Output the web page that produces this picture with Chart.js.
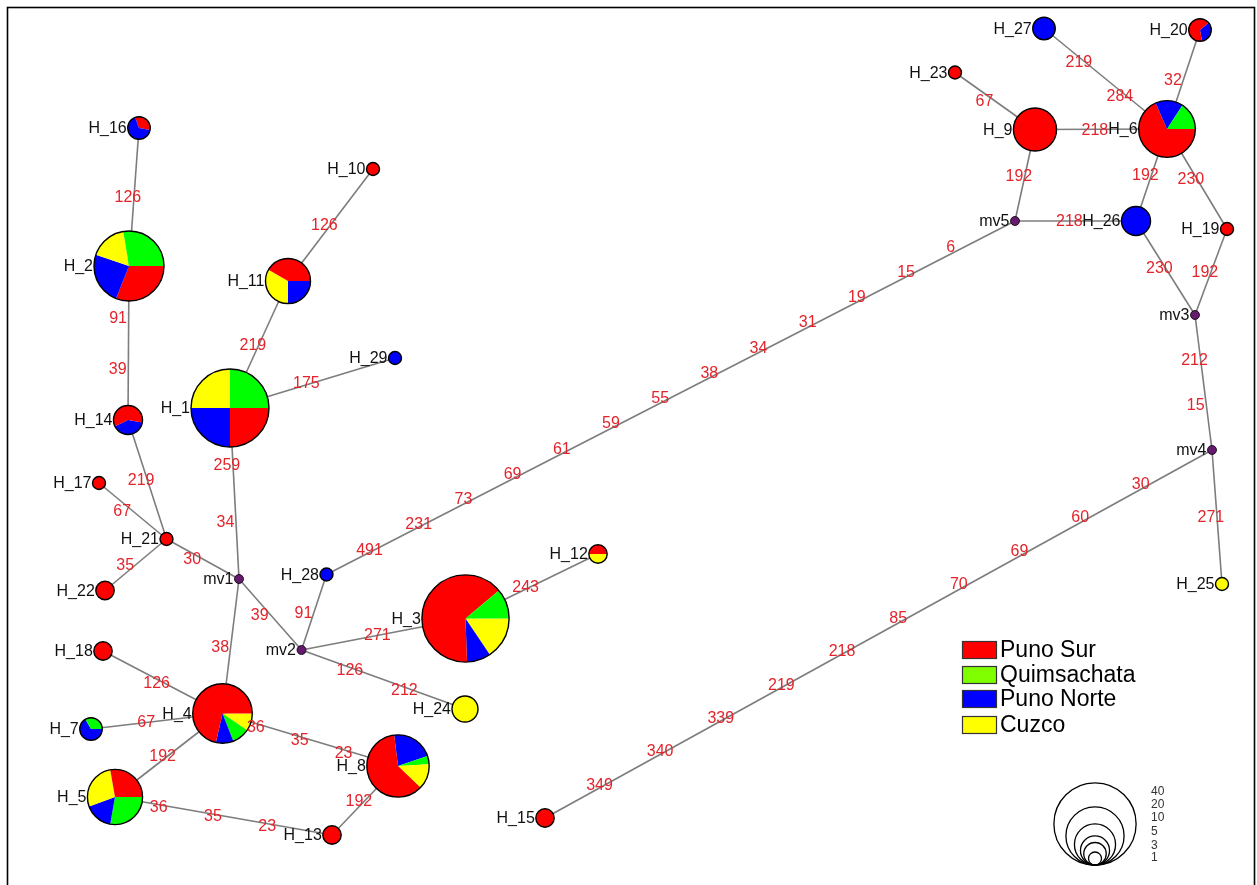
<!DOCTYPE html>
<html>
<head>
<meta charset="utf-8">
<script src="https://cdn.jsdelivr.net/npm/chart.js@4.4.1/dist/chart.umd.min.js"></script>
<style>
  html, body { margin: 0; padding: 0; background: #ffffff; }
  #wrap { width: 1257px; height: 885px; position: relative; }
</style>
</head>
<body>
<div id="wrap"><canvas id="net" width="1257" height="885"></canvas></div>
<script>
// Haplotype network: node positions (layout units), sample counts per population,
// links between haplotypes and the mutated sites along each link.
const nodeNames = ['H_1','H_2','H_3','H_4','H_5','H_6','H_7','H_8','H_9','H_10',
  'H_11','H_12','H_13','H_14','H_15','H_16','H_17','H_18','H_19','H_20',
  'H_21','H_22','H_23','H_24','H_25','H_26','H_27','H_28','H_29',
  'mv1','mv2','mv3','mv4','mv5'];
const nodeX = [230, 129, 465.5, 222.5, 115, 1167, 91, 398, 1035, 373,
  288, 598, 332, 128, 545, 139, 99, 103, 1227, 1200,
  166.5, 105, 955, 465, 1222, 1136, 1044, 326.5, 395,
  239, 301.5, 1195, 1212, 1015];
const nodeY = [408, 266, 618.5, 713.5, 797, 129, 729, 766, 129.5, 169,
  281, 554, 835, 420, 818, 128, 483, 651, 229, 30,
  539, 590.5, 72.5, 709, 584, 221, 28.5, 574.5, 358,
  579, 650, 315, 450, 221];

const groupNames = ['Puno Sur', 'Quimsachata', 'Puno Norte', 'Cuzco'];
const punoSur     = [9, 9, 29, 15, 5, 13, 0, 14, 11, 1, 5, 1, 2, 3, 2, 1, 1, 2, 1, 2, 1, 2, 1, 0, 0, 0, 0, 0, 0, 0, 0, 0, 0, 0];
const quimsachata = [9, 8,  5,  2, 5,  3, 1,  1,  0, 0, 0, 0, 0, 0, 0, 0, 0, 0, 0, 0, 0, 0, 0, 0, 0, 0, 0, 0, 0, 0, 0, 0, 0, 0];
const punoNorte   = [9, 7,  4,  2, 3,  3, 2,  5,  0, 0, 3, 0, 0, 2, 0, 2, 0, 0, 0, 1, 0, 0, 0, 0, 0, 5, 3, 1, 1, 0, 0, 0, 0, 0];
const cuzco       = [9, 5,  7,  2, 5,  0, 0,  3,  0, 0, 4, 1, 0, 0, 0, 0, 0, 0, 0, 0, 0, 0, 0, 4, 1, 0, 0, 0, 0, 0, 0, 0, 0, 0];

const edgeFrom = ['H_16','H_2','H_14','H_17','H_21','H_21','H_1','H_1','H_11','H_1',
  'mv1','mv1','mv2','H_28','mv2','mv2','H_3','H_18','H_7','H_4',
  'H_4','H_5','H_8','H_15','mv3','mv4','mv3','mv3','H_6','H_6',
  'H_6','H_27','H_9','H_23','H_9','mv5'];
const edgeTo = ['H_2','H_14','H_21','H_21','H_22','mv1','mv1','H_11','H_10','H_29',
  'mv2','H_4','H_28','mv5','H_3','H_24','H_12','H_4','H_4','H_5',
  'H_8','H_13','H_13','mv4','mv4','H_25','H_26','H_19','H_19','H_26',
  'H_20','H_6','H_6','H_9','mv5','H_26'];
const edgeMutations = [[126],[91,39],[219],[67],[35],[30],[259,34],[219],[126],[175],
  [39],[38],[91],[491,231,73,69,61,59,55,38,34,31,19,15,6],[271],[126,212],[243],[126],[67],[192],
  [36,35,23],[36,35,23],[192],[349,340,339,219,218,85,70,69,60,30],[212,15],[271],[230],[192],[230],[192],
  [32],[219,284],[218],[67],[192],[218]];

const sizeKeyValues = [40, 20, 10, 5, 3, 1];

// ---- styling ----
const groupColors = ['#ff0000', '#00ff00', '#0000ff', '#ffff00'];
const legendColors = ['#ff0000', '#80ff00', '#0000ff', '#ffff00'];
const RADIUS_PER_SQRT = 6.5;
const MV_RADIUS = 4.5;
const FONT = '"Liberation Sans", Arial, Helvetica, sans-serif';
// wedge order (group indices, clockwise) and start angle in degrees for mixed pies
const pieLayout = {
  H_1:  { start: 0,    order: [0, 2, 3, 1] },
  H_2:  { start: 0,    order: [0, 2, 3, 1] },
  H_3:  { start: 0,    order: [3, 2, 0, 1] },
  H_4:  { start: 0,    order: [3, 1, 2, 0] },
  H_5:  { start: 0,    order: [1, 2, 3, 0] },
  H_6:  { start: 0,    order: [0, 2, 1] },
  H_7:  { start: 0,    order: [2, 1] },
  H_8:  { start: -97,  order: [2, 1, 3, 0] },
  H_11: { start: 0,    order: [2, 3, 0] },
  H_12: { start: 0,    order: [3, 0] },
  H_14: { start: 10,   order: [2, 0] },
  H_16: { start: -110, order: [0, 2] },
  H_20: { start: -40,  order: [2, 0] }
};

const counts = nodeNames.map((_, i) => [punoSur[i], quimsachata[i], punoNorte[i], cuzco[i]]);
const idx = name => nodeNames.indexOf(name);
const radiusFor = n => RADIUS_PER_SQRT * Math.sqrt(n);

const edgeDatasets = edgeFrom.map((f, k) => ({
  label: f + '-' + edgeTo[k],
  data: [{ x: nodeX[idx(f)], y: nodeY[idx(f)] }, { x: nodeX[idx(edgeTo[k])], y: nodeY[idx(edgeTo[k])] }],
  showLine: true,
  borderColor: '#7d7d7d',
  borderWidth: 1.6,
  pointRadius: 0,
  pointHoverRadius: 0,
  tension: 0
}));

const nodeDataset = {
  label: 'haplotypes',
  data: nodeNames.map((n, i) => ({ x: nodeX[i], y: nodeY[i] })),
  pointRadius: 0,
  pointHoverRadius: 0,
  showLine: false
};

const networkPlugin = {
  id: 'network',
  afterDatasetsDraw(chart) {
    const ctx = chart.ctx;
    const nodeMeta = chart.getDatasetMeta(chart.data.datasets.length - 1);
    const pos = i => ({ x: nodeMeta.data[i].x, y: nodeMeta.data[i].y });

    ctx.save();
    // pies and median vectors
    nodeNames.forEach((name, i) => {
      const p = pos(i);
      const c = counts[i];
      const total = c.reduce((a, b) => a + b, 0);
      ctx.lineWidth = 1.4;
      ctx.strokeStyle = '#000';
      if (total === 0) {
        ctx.beginPath();
        ctx.arc(p.x, p.y, MV_RADIUS, 0, Math.PI * 2);
        ctx.fillStyle = '#661a6e';
        ctx.fill();
        ctx.lineWidth = 0.8;
        ctx.stroke();
        return;
      }
      const r = radiusFor(total);
      const lay = pieLayout[name] || { start: 0, order: [0, 1, 2, 3] };
      let a = lay.start * Math.PI / 180;
      lay.order.forEach(g => {
        if (!c[g]) return;
        const sweep = c[g] / total * Math.PI * 2;
        ctx.beginPath();
        ctx.moveTo(p.x, p.y);
        ctx.arc(p.x, p.y, r, a, a + sweep);
        ctx.closePath();
        ctx.fillStyle = groupColors[g];
        ctx.fill();
        a += sweep;
      });
      ctx.beginPath();
      ctx.arc(p.x, p.y, r, 0, Math.PI * 2);
      ctx.stroke();
    });

    // node names
    ctx.font = '16px ' + FONT;
    ctx.fillStyle = '#111';
    ctx.textAlign = 'right';
    ctx.textBaseline = 'middle';
    nodeNames.forEach((name, i) => {
      const p = pos(i);
      const total = counts[i].reduce((a, b) => a + b, 0);
      const r = total ? radiusFor(total) : MV_RADIUS;
      ctx.fillText(name, p.x - r - 1, p.y + 1);
    });

    // mutated sites spaced evenly along each link
    ctx.fillStyle = '#e3242b';
    ctx.textAlign = 'left';
    edgeFrom.forEach((f, k) => {
      const a = pos(idx(f)), b = pos(idx(edgeTo[k]));
      const muts = edgeMutations[k];
      muts.forEach((m, j) => {
        const t = (j + 1) / (muts.length + 1);
        const x = a.x + (b.x - a.x) * t;
        const y = a.y + (b.y - a.y) * t;
        ctx.fillText(String(m), x - 19.5, y + 1);
      });
    });

    // population legend
    ctx.font = '23px ' + FONT;
    ctx.textBaseline = 'middle';
    const boxTops = [641, 666, 690, 716];
    groupNames.forEach((g, i) => {
      ctx.fillStyle = legendColors[i];
      ctx.fillRect(962, boxTops[i], 35, 18);
      ctx.strokeStyle = '#333';
      ctx.lineWidth = 1.2;
      ctx.strokeRect(962.5, boxTops[i] + 0.5, 34, 17);
      ctx.fillStyle = '#000';
      ctx.fillText(g, 1000, boxTops[i] + 10);
    });

    // circle size key
    ctx.strokeStyle = '#000';
    ctx.lineWidth = 1.3;
    const keyCx = 1095, keyBottom = 865;
    sizeKeyValues.forEach(v => {
      const r = radiusFor(v);
      ctx.beginPath();
      ctx.arc(keyCx, keyBottom - r, r, 0, Math.PI * 2);
      ctx.stroke();
    });
    ctx.font = '12px ' + FONT;
    ctx.fillStyle = '#333';
    const keyLabelY = [792, 805, 818, 832, 846, 858];
    sizeKeyValues.forEach((v, i) => {
      ctx.fillText(String(v), 1151, keyLabelY[i]);
    });

    // frame
    ctx.strokeStyle = '#000';
    ctx.lineWidth = 1.6;
    ctx.strokeRect(7.5, 7.5, 1247, 900);
    ctx.restore();
  }
};

new Chart(document.getElementById('net'), {
  type: 'scatter',
  data: { datasets: [...edgeDatasets, nodeDataset] },
  options: {
    responsive: false,
    devicePixelRatio: 1,
    animation: false,
    events: [],
    layout: { padding: 0 },
    plugins: { legend: { display: false }, tooltip: { enabled: false } },
    scales: {
      x: { type: 'linear', min: 0, max: 1257, display: false },
      y: { type: 'linear', min: 0, max: 885, reverse: true, display: false }
    }
  },
  plugins: [networkPlugin]
});
</script>
</body>
</html>
